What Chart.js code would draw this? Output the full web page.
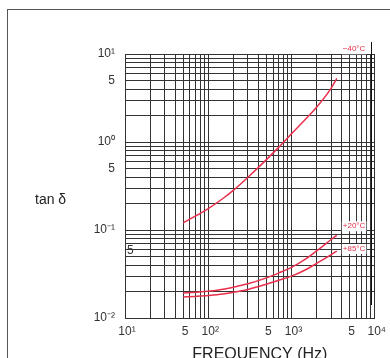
<!DOCTYPE html>
<html><head><meta charset="utf-8">
<script src="https://cdn.jsdelivr.net/npm/chart.js@4/dist/chart.umd.min.js"></script>
<style>html,body{margin:0;padding:0;background:#fff;overflow:hidden}</style>
</head><body>
<canvas id="c" width="390" height="358"></canvas>
<script>
// ---- data ----
const frequencies = [50, 70, 100, 150, 200, 300, 500, 700, 1000, 1500, 2000, 3000, 3500];
const tanMinus40 = [0.121, 0.1435, 0.175, 0.228, 0.282, 0.398, 0.631, 0.869, 1.24, 1.85, 2.48, 4.1, 5.3];
const tanPlus20  = [0.0192, 0.0196, 0.0201, 0.0212, 0.0224, 0.0245, 0.0286, 0.0324, 0.0376, 0.0474, 0.0579, 0.078, 0.0871];
const tanPlus85  = [0.0173, 0.0176, 0.0180, 0.0187, 0.0196, 0.0211, 0.0242, 0.0268, 0.0299, 0.0356, 0.0417, 0.0526, 0.0577];
const seriesLabels = ['\u221240\u00B0C', '+20\u00B0C', '+85\u00B0C'];

const xTickValues = [10,20,30,40,50,60,70,80,90,100,200,300,400,500,600,700,800,900,1000,2000,3000,4000,5000,6000,7000,8000,9000,10000];
const xLabelValues = [10, 50, 100, 500, 1000, 5000, 10000];
const xLabelTexts  = ['10\u00B9', '5', '10\u00B2', '5', '10\u00B3', '5', '10\u2074'];

const yTickValues = [0.01,0.02,0.03,0.04,0.05,0.06,0.07,0.08,0.09,0.1,0.2,0.3,0.4,0.5,0.6,0.7,0.8,0.9,1,2,3,4,5,6,7,8,9,10];
const yLabelValues = [0.01, 0.1, 0.5, 1, 5, 10];
const yLabelTexts  = ['10\u207B\u00B2', '10\u207B\u00B9', '5', '10\u2070', '5', '10\u00B9'];
const yInnerLabelValue = 0.05, yInnerLabelText = '5';

const xTitle = 'FREQUENCY (Hz)';
const yTitle = 'tan \u03B4';

// ---- drawing ----
const RED = '#e8304c';
const FONT = '"Liberation Sans", Arial, sans-serif';
const toPts = arr => frequencies.map((f, i) => ({x: f, y: arr[i]}));
const labelOffsets = [[6, -29], [6, -9], [6, -2]];

const decor = {
  id: 'decor',
  beforeDraw(chart) {
    const ctx = chart.ctx;
    ctx.save();
    ctx.fillStyle = '#fff';
    ctx.fillRect(0, 0, chart.width, chart.height);
    ctx.strokeStyle = '#555';
    ctx.lineWidth = 1;
    ctx.strokeRect(7.5, 9.5, chart.width + 20, chart.height + 20);
    ctx.restore();
  },
  afterDraw(chart) {
    const ctx = chart.ctx, a = chart.chartArea;
    const xs = chart.scales.x, ys = chart.scales.y;
    ctx.save();
    // stray vertical line
    const sx = Math.round(xs.getPixelForValue(9000)) + 0.5;
    ctx.strokeStyle = '#111'; ctx.lineWidth = 1;
    ctx.beginPath(); ctx.moveTo(sx, a.top - 12); ctx.lineTo(sx, a.bottom - 13); ctx.stroke();
    // inner "5" label
    ctx.fillStyle = '#333';
    ctx.font = '12px ' + FONT;
    ctx.textAlign = 'left'; ctx.textBaseline = 'middle';
    ctx.fillText(yInnerLabelText, a.left + 2, ys.getPixelForValue(yInnerLabelValue) - 6);
    // y title
    ctx.font = '14px ' + FONT;
    ctx.fillStyle = '#222';
    ctx.fillText(yTitle, 35, (a.top + a.bottom) / 2 + 14);
    // x title
    ctx.font = '16px ' + FONT;
    ctx.textAlign = 'center'; ctx.textBaseline = 'alphabetic';
    ctx.fillText(xTitle, (a.left + a.right) / 2 + 10, chart.height + 1);
    // series labels
    ctx.font = '8px ' + FONT;
    ctx.textAlign = 'left'; ctx.textBaseline = 'middle';
    chart.data.datasets.forEach((ds, i) => {
      const meta = chart.getDatasetMeta(i);
      const last = meta.data[meta.data.length - 1];
      const lx = last.x + labelOffsets[i][0], ly = last.y + labelOffsets[i][1];
      const w = ctx.measureText(ds.label).width;
      ctx.fillStyle = '#fff';
      ctx.fillRect(lx - 1, ly - 5, w + 2, 10);
      ctx.fillStyle = RED;
      ctx.fillText(ds.label, lx, ly);
    });
    ctx.restore();
  }
};

new Chart(document.getElementById('c'), {
  type: 'line',
  data: {
    datasets: [
      {label: seriesLabels[0], data: toPts(tanMinus40)},
      {label: seriesLabels[1], data: toPts(tanPlus20)},
      {label: seriesLabels[2], data: toPts(tanPlus85)}
    ].map(d => Object.assign(d, {borderColor: RED, borderWidth: 1.5, pointRadius: 0, cubicInterpolationMode: 'monotone', fill: false}))
  },
  options: {
    responsive: false,
    animation: false,
    devicePixelRatio: 1,
    layout: {padding: {top: 54, right: 15, left: 0, bottom: 0}},
    plugins: {legend: {display: false}, tooltip: {enabled: false}},
    scales: {
      x: {
        type: 'logarithmic', min: 10, max: 10000,
        afterBuildTicks: s => { s.ticks = xTickValues.map(v => ({value: v})); },
        afterFit: s => { s.height = 40; },
        ticks: {
          autoSkip: false, maxRotation: 0, padding: 6, labelOffset: 2, color: '#333',
          font: {family: FONT, size: 12},
          callback: v => { const i = xLabelValues.indexOf(v); return i < 0 ? '' : xLabelTexts[i]; }
        },
        grid: {color: '#333', lineWidth: 1, drawTicks: false},
        border: {color: '#333'}
      },
      y: {
        type: 'logarithmic', min: 0.01, max: 10,
        afterBuildTicks: s => { s.ticks = yTickValues.map(v => ({value: v})); },
        afterFit: s => { s.width = 125; },
        ticks: {
          autoSkip: false, padding: 10, color: '#333',
          font: {family: FONT, size: 12},
          callback: v => { const i = yLabelValues.indexOf(v); return i < 0 ? '' : yLabelTexts[i]; }
        },
        grid: {color: '#333', lineWidth: 1, drawTicks: false},
        border: {color: '#333'}
      }
    }
  },
  plugins: [decor]
});
</script>
</body></html>
